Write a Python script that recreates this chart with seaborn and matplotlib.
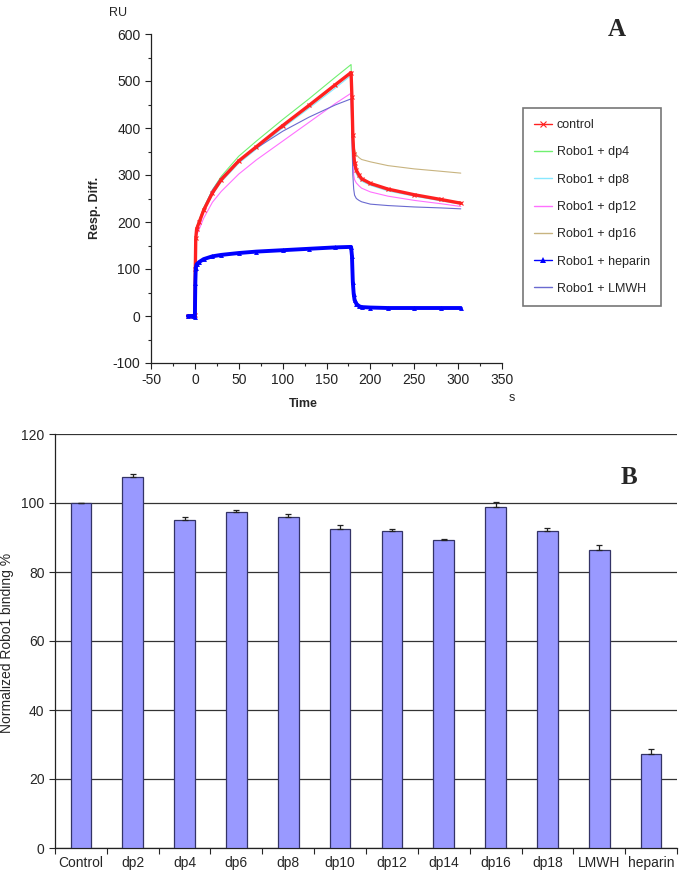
import numpy as np
import pandas as pd
import matplotlib
matplotlib.use('Agg')
import matplotlib.pyplot as plt
from matplotlib.lines import Line2D
from matplotlib.ticker import MultipleLocator, FixedLocator
import seaborn as sns

# --- panel A: sensorgram ---
time_s = [-8, -2, 0, 0.5, 1, 2, 5, 10, 20, 30, 50, 70, 100, 130, 160, 178,
          179, 180, 181, 182, 184, 187, 190, 200, 220, 250, 280, 303]

control = [0, 0, 2, 100, 165, 185, 200, 225, 262, 290, 330, 360, 405, 448, 492, 518,
           465, 385, 345, 325, 310, 300, 292, 282, 270, 258, 248, 240]
dp4 = [0, 0, 2, 105, 170, 190, 205, 230, 268, 297, 340, 372, 418, 462, 508, 535,
       450, 370, 335, 318, 305, 296, 289, 280, 268, 256, 247, 242]
dp8 = [0, 0, 2, 100, 165, 183, 197, 222, 258, 285, 325, 355, 400, 442, 485, 512,
       440, 365, 330, 315, 302, 293, 287, 278, 266, 255, 245, 238]
dp12 = [0, 0, 2, 95, 155, 172, 185, 208, 242, 265, 302, 332, 372, 412, 452, 474,
        410, 330, 300, 290, 283, 277, 272, 264, 255, 246, 239, 233]
dp16 = [0, 0, 2, 100, 165, 185, 200, 225, 262, 290, 330, 360, 403, 445, 490, 518,
        460, 400, 370, 355, 343, 337, 333, 328, 320, 313, 308, 304]
heparin = [0, 0, -2, 70, 102, 110, 115, 121, 127, 130, 134, 137, 140, 143, 146, 147,
           128, 72, 47, 34, 26, 21, 19, 18, 17, 17, 17, 17]
lmwh = [0, 0, 2, 100, 168, 188, 203, 229, 268, 294, 331, 357, 393, 423, 449, 462,
        380, 300, 270, 257, 250, 246, 243, 238, 235, 232, 230, 228]

series_names = ['control', 'Robo1 + dp4', 'Robo1 + dp8', 'Robo1 + dp12',
                'Robo1 + dp16', 'Robo1 + heparin', 'Robo1 + LMWH']

# --- panel B: normalized binding ---
samples = ['Control', 'dp2', 'dp4', 'dp6', 'dp8', 'dp10', 'dp12', 'dp14',
           'dp16', 'dp18', 'LMWH', 'heparin']
binding = [100, 107.4, 95.1, 97.3, 96.0, 92.5, 91.9, 89.3, 98.9, 92.0, 86.4, 27.3]
binding_err = [0, 1.0, 0.9, 0.6, 0.8, 1.0, 0.7, 0.4, 1.3, 0.8, 1.5, 1.4]

sns.set_style('white')
plt.rcParams['font.family'] = ['Liberation Sans', 'DejaVu Sans']
plt.rcParams['axes.unicode_minus'] = False

fig = plt.figure(figsize=(6.87, 8.82), dpi=100)
W, H = 687, 882

ax1 = fig.add_axes([151 / W, 1 - 363 / H, 351 / W, 329 / H])

colors = ['#ff2020', '#70f070', '#88e8ff', '#ff70ff', '#c8b480', '#0000ff', '#6a6ad0']
widths = [2.4, 0.8, 0.8, 0.8, 0.8, 2.8, 0.8]
markers = ['x', None, None, None, None, '^', None]
msizes = [3.5, 0, 0, 0, 0, 3.5, 0]
curves = [control, dp4, dp8, dp12, dp16, heparin, lmwh]

for i in [1, 2, 3, 4, 6, 0, 5]:
    sns.lineplot(x=time_s, y=curves[i], ax=ax1, color=colors[i],
                 linewidth=widths[i], marker=markers[i], markersize=msizes[i],
                 markeredgewidth=0.8 if markers[i] == 'x' else 0,
                 markeredgecolor=colors[i], sort=False, legend=False)

ax1.set_xlim(-50, 350)
ax1.set_ylim(-100, 600)
ax1.xaxis.set_major_locator(MultipleLocator(50))
ax1.xaxis.set_minor_locator(MultipleLocator(25))
ax1.yaxis.set_major_locator(MultipleLocator(100))
ax1.yaxis.set_minor_locator(MultipleLocator(50))
ax1.tick_params(which='major', direction='out', length=4, width=0.8,
                labelsize=10, colors='#222222', left=True, bottom=True)
ax1.tick_params(which='minor', direction='out', length=2.5, width=0.8,
                left=True, bottom=True)
for s in ['top', 'right']:
    ax1.spines[s].set_visible(False)
for s in ['left', 'bottom']:
    ax1.spines[s].set_color('#222222')
    ax1.spines[s].set_linewidth(0.9)
ax1.set_xlabel('Time', fontsize=9, fontweight='bold')
ax1.set_ylabel('Resp. Diff.', fontsize=9, fontweight='bold')
ax1.xaxis.set_label_coords(0.433, -0.105)
ax1.yaxis.set_label_coords(-0.142, 0.47)

fig.text(118 / W, 1 - 13 / H, 'RU', fontsize=9, ha='center', va='center')
fig.text(512 / W, 1 - 398 / H, 's', fontsize=9, ha='center', va='center')
fig.text(617 / W, 1 - 30 / H, 'A', fontsize=18, fontweight='bold',
         family='Liberation Serif', ha='center', va='center')

leg_handles = [Line2D([], [], color=colors[i], lw=1.0, marker=markers[i],
                      markersize=4 if markers[i] else 0,
                      markeredgewidth=0.8 if markers[i] == 'x' else 0)
               for i in range(7)]
leg = fig.legend(leg_handles, series_names,
                 loc='upper left', bbox_to_anchor=(523 / W, 1 - 108 / H),
                 fontsize=9, frameon=True, fancybox=False, numpoints=1,
                 handlelength=1.4, handletextpad=0.4, labelspacing=1.22,
                 borderpad=0.9, borderaxespad=0)
leg.get_frame().set_edgecolor('#555555')
leg.get_frame().set_linewidth(1.2)

# --- panel B ---
ax2 = fig.add_axes([55 / W, 1 - 848 / H, 622 / W, 414 / H])
df = pd.DataFrame({'sample': samples, 'binding': binding})
sns.barplot(data=df, x='sample', y='binding', ax=ax2, width=0.4,
            color='#9999ff', saturation=1, edgecolor='#333366', linewidth=0.9,
            zorder=3)
ax2.errorbar(np.arange(len(samples)), binding,
             yerr=[np.zeros(len(samples)), binding_err], fmt='none',
             ecolor='#222222', elinewidth=0.9, capsize=2.5, capthick=0.9, zorder=4)

ax2.set_xlim(-0.5, len(samples) - 0.5)
ax2.set_ylim(0, 120)
ax2.yaxis.set_major_locator(MultipleLocator(20))
ax2.grid(axis='y', color='#333333', linewidth=0.9, zorder=0)
ax2.set_axisbelow(True)
ax2.xaxis.set_minor_locator(FixedLocator(np.arange(-0.5, len(samples), 1.0)))
ax2.tick_params(axis='x', which='major', length=0, labelsize=10, pad=6)
ax2.tick_params(axis='x', which='minor', direction='out', length=4, width=0.8,
                bottom=True)
ax2.tick_params(axis='y', which='major', direction='out', length=4, width=0.8,
                labelsize=10, left=True)
for s in ['top', 'right']:
    ax2.spines[s].set_visible(False)
for s in ['left', 'bottom']:
    ax2.spines[s].set_color('#222222')
    ax2.spines[s].set_linewidth(0.9)
ax2.set_xlabel('')
ax2.set_ylabel('Normalized Robo1 binding %', fontsize=10)
ax2.yaxis.set_label_coords(-0.066, 0.495)

fig.text(629 / W, 1 - 478 / H, 'B', fontsize=18, fontweight='bold',
         family='Liberation Serif', ha='center', va='center')

fig.savefig('out.png', dpi=100)
